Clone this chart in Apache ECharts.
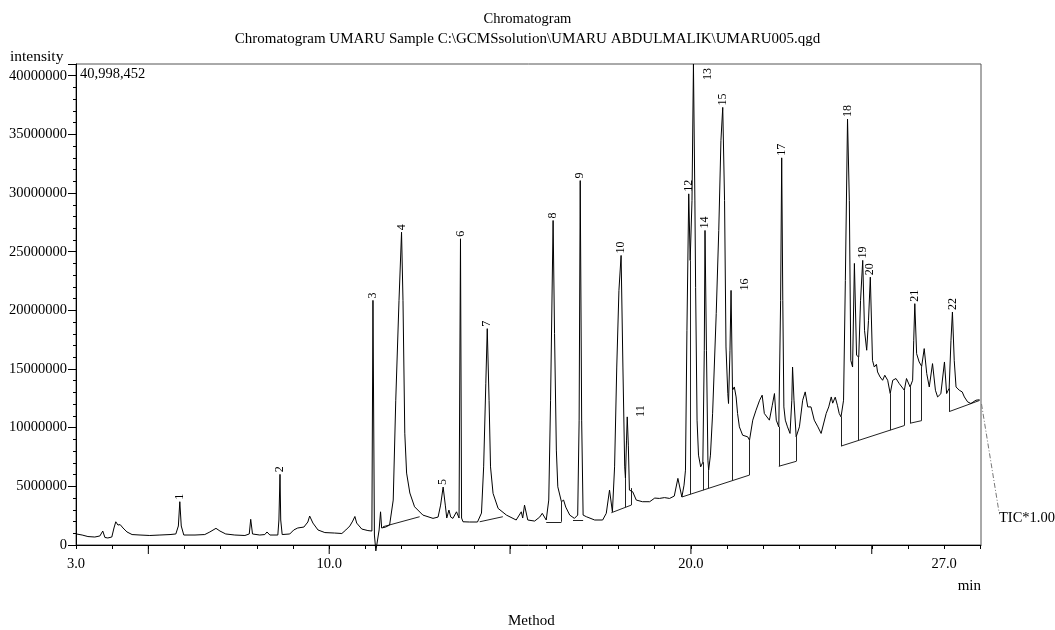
<!DOCTYPE html>
<html><head><meta charset="utf-8">
<script src="https://cdn.jsdelivr.net/npm/echarts@6/dist/echarts.min.js"></script>
<style>html,body{margin:0;padding:0;background:#fff}#c{width:1055px;height:630px}</style>
</head><body><div id="c"></div>
<script>
// Retention time (min)
const rtMin = [3.01,3.17,3.33,3.52,3.66,3.74,3.80,3.88,3.99,4.05,4.10,4.16,4.22,4.30,4.41,4.55,4.77,5.04,5.32,5.60,
5.76,5.83,5.87,5.91,5.98,6.29,6.56,6.70,6.87,6.98,7.14,7.39,7.67,7.79,7.83,7.88,8.08,8.22,8.28,8.36,
8.58,8.61,8.64,8.66,8.70,8.91,9.02,9.13,9.30,9.41,9.46,9.55,9.69,9.88,10.15,10.35,10.46,10.57,10.65,10.71,
10.76,10.90,11.07,11.18,11.21,11.25,11.29,11.34,11.38,11.42,11.45,11.56,11.67,11.77,11.84,11.93,12.00,12.04,12.09,12.14,
12.23,12.36,12.59,12.87,13.01,13.08,13.15,13.21,13.25,13.31,13.36,13.42,13.52,13.59,13.63,13.66,13.70,13.88,14.10,14.21,
14.27,14.33,14.37,14.42,14.46,14.53,14.67,14.90,15.17,15.31,15.35,15.40,15.49,15.68,15.82,15.89,16.00,16.07,16.12,16.19,
16.23,16.28,16.32,16.42,16.48,16.54,16.65,16.78,16.87,16.91,16.94,16.98,17.02,17.11,17.34,17.56,17.66,17.75,17.83,17.89,
17.95,18.01,18.07,18.12,18.17,18.19,18.22,18.24,18.27,18.30,18.35,18.39,18.49,18.66,18.86,19.00,19.13,19.27,19.41,19.54,
19.64,19.75,19.81,19.85,19.89,19.94,19.98,20.03,20.07,20.11,20.13,20.17,20.21,20.27,20.33,20.37,20.39,20.43,20.47,20.49,
20.54,20.60,20.70,20.77,20.83,20.88,20.93,20.97,21.02,21.04,21.08,21.11,21.15,21.20,21.25,21.29,21.34,21.43,21.57,21.62,
21.71,21.80,21.90,21.97,22.03,22.17,22.25,22.31,22.36,22.43,22.48,22.51,22.54,22.57,22.61,22.67,22.74,22.79,22.81,22.85,
22.91,23.00,23.09,23.16,23.23,23.32,23.41,23.51,23.60,23.64,23.74,23.81,23.88,23.92,23.99,24.05,24.10,24.15,24.22,24.27,
24.33,24.38,24.42,24.47,24.52,24.58,24.64,24.69,24.75,24.80,24.86,24.91,24.96,25.02,25.07,25.13,25.16,25.23,25.30,25.36,
25.44,25.51,25.58,25.67,25.76,25.90,25.96,26.06,26.13,26.16,26.19,26.24,26.31,26.38,26.45,26.52,26.59,26.68,26.76,26.82,
26.91,27.01,27.07,27.14,27.19,27.23,27.28,27.33,27.42,27.50,27.56,27.65,27.74,27.88,27.98];
// TIC intensity (millions of counts)
const ticMillions = [0.94,0.85,0.72,0.68,0.77,1.19,0.64,0.60,0.68,1.45,1.98,1.70,1.74,1.45,1.11,0.89,0.85,0.81,0.85,0.89,
0.94,1.62,3.69,1.62,0.85,0.85,0.89,1.11,1.42,1.19,0.94,0.85,0.81,0.94,2.19,0.94,0.85,0.89,1.11,0.85,
0.85,2.13,6.02,2.13,0.89,0.94,1.28,1.45,1.53,1.96,2.47,1.87,1.28,1.06,1.02,0.98,1.28,1.62,2.04,2.43,
1.87,1.36,1.23,1.19,20.85,0.85,-0.5,-0.5,1.28,2.83,1.45,1.53,1.70,3.83,12.34,20.85,26.66,20.85,9.53,6.13,
4.43,3.26,2.55,2.27,2.38,3.40,4.94,3.40,2.30,2.98,2.38,2.27,2.83,2.30,26.10,2.30,1.98,1.96,1.96,2.72,
6.66,13.79,18.44,12.34,6.66,4.40,3.12,2.55,2.13,2.83,2.30,3.40,2.13,2.04,2.38,2.70,2.13,3.83,12.34,27.66,
18.04,8.09,4.96,3.69,3.83,3.23,2.55,2.27,2.55,10.64,31.06,10.64,2.55,2.41,2.13,2.13,2.70,4.68,2.83,6.66,
15.17,21.70,24.68,15.17,6.66,5.70,8.94,10.92,8.51,4.68,4.85,4.54,3.83,3.69,3.69,4.00,3.97,4.04,3.97,4.17,
5.68,4.09,5.10,6.38,18.30,29.93,24.26,29.36,40.998452,29.40,21.96,10.64,7.66,6.66,7.06,16.60,26.81,16.60,7.23,6.38,
7.66,11.23,19.74,26.80,34.47,37.30,29.36,16.88,12.91,12.06,16.60,21.70,13.19,13.47,12.62,11.21,10.07,9.36,9.22,8.94,
10.64,11.49,12.34,12.77,11.21,10.64,11.91,12.91,10.64,10.07,20.85,33.00,20.85,11.77,10.64,10.07,9.51,12.34,15.17,12.34,
9.22,10.07,12.34,13.05,11.77,11.77,10.64,10.07,9.51,9.64,11.21,11.77,12.62,12.09,12.60,11.91,11.21,10.92,12.34,22.55,
36.31,29.36,15.74,15.17,24.00,16.17,16.02,20.85,24.26,18.30,16.60,19.15,22.83,15.74,15.17,15.40,14.75,14.32,14.04,14.47,
14.04,12.91,14.04,14.19,13.76,13.19,14.19,13.47,14.04,17.45,20.57,16.31,15.60,15.23,16.74,14.61,13.47,15.46,13.19,12.62,
12.89,15.60,12.91,13.36,17.45,19.86,15.74,13.47,13.19,13.05,12.62,12.20,12.06,12.34,12.38];

// Identified peaks
const peakNo  = [1,2,3,4,5,6,7,8,9,10,11,12,13,14,15,16,17,18,19,20,21,22];
const peakRt  = [5.87,8.64,11.21,12.00,13.15,13.63,14.37,16.19,16.94,18.07,18.24,19.94,20.07,20.39,20.88,21.11,22.51,24.33,24.75,24.96,26.19,27.23];
const peakInt = [3.69,6.02,20.85,26.66,4.94,26.10,18.44,27.66,31.06,24.68,10.92,29.93,40.998452,26.81,37.30,21.70,33.00,36.31,24.26,22.83,20.57,19.86];

// Integration baselines
const baseFromRt  = [11.49,14.16,16.00,16.74,17.80,19.75,22.43,24.15,26.06,27.14];
const baseFromInt = [1.56,1.98,1.98,2.13,2.75,4.09,6.71,8.43,10.38,11.37];
const baseToRt    = [12.50,14.80,16.42,17.02,18.35,21.62,22.91,25.90,26.38,27.98];
const baseToInt   = [2.41,2.41,1.98,2.13,3.40,5.96,7.13,10.18,10.60,12.32];
// Drop lines (peak boundaries)
const dropRt   = [16.42,18.19,18.35,19.98,20.33,20.49,21.15,21.62,22.43,22.91,24.15,24.64,25.51,25.90,26.06,26.38,27.14];
const dropLow  = [1.98,3.21,3.40,4.32,4.67,4.83,5.49,5.96,6.71,7.13,8.43,8.92,9.79,10.18,10.38,10.60,11.37];
const dropHigh = [3.69,5.70,4.85,24.26,7.06,6.38,13.19,8.94,10.07,9.22,10.92,16.02,12.91,13.19,13.47,15.23,13.36];

// Axis ticks / labels
const xLabelled = [3, 10, 20, 27];
const xLongTicks = [5, 10, 15, 20, 25];
const yStep = 5000000;

const M = 1e6;
const FONT = '"Liberation Serif", "Times New Roman", serif';
const tic = rtMin.map((t, i) => [t, ticMillions[i] * M]);
const yMax = Math.max(...ticMillions) * M;

const labelShift = {11: [14, 0], 13: [14, 16], 16: [14, 0]};

const chart = echarts.init(document.getElementById('c'), null, {renderer: 'canvas'});
chart.setOption({
  animation: false,
  backgroundColor: '#fff',
  title: [
    {text: 'Chromatogram', left: 'center', top: 7,
     textStyle: {fontFamily: FONT, fontSize: 14.5, fontWeight: 'normal', color: '#000'}},
    {text: 'Chromatogram UMARU Sample C:\\GCMSsolution\\UMARU ABDULMALIK\\UMARU005.qgd', left: 'center', top: 27,
     textStyle: {fontFamily: FONT, fontSize: 15, fontWeight: 'normal', color: '#000'}}
  ],
  grid: {left: 76, right: 74, top: 64, bottom: 85, show: true, borderColor: '#555', borderWidth: 1, backgroundColor: 'transparent'},
  xAxis: {
    type: 'value', min: 3, max: 28.02, interval: 1,
    axisLine: {show: true, onZero: false, lineStyle: {color: '#000', width: 1}},
    axisTick: {show: true, length: 4, lineStyle: {color: '#000'}},
    splitLine: {show: false},
    axisLabel: {
      margin: 12, showMaxLabel: false, color: '#000', fontFamily: FONT, fontSize: 14.5,
      formatter: v => xLabelled.indexOf(Math.round(v * 100) / 100) >= 0 ? v.toFixed(1) : ''
    }
  },
  yAxis: {
    type: 'value', min: 0, max: yMax, interval: yStep,
    axisLine: {show: true, lineStyle: {color: '#000', width: 1}},
    axisTick: {show: true, length: 8, lineStyle: {color: '#000'}},
    minorTick: {show: true, splitNumber: 5, length: 3, lineStyle: {color: '#000'}},
    splitLine: {show: false}, minorSplitLine: {show: false},
    axisLabel: {
      margin: 9, showMaxLabel: false, color: '#000', fontFamily: FONT, fontSize: 14.5,
      formatter: v => (v % yStep === 0) ? String(v) : ''
    }
  },
  series: [
    {
      type: 'line', name: 'TIC', data: tic, symbol: 'none', clip: false, z: 5,
      lineStyle: {color: '#000', width: 1}
    },
    {
      type: 'lines', coordinateSystem: 'cartesian2d', z: 4, silent: true,
      lineStyle: {color: '#222', width: 1, opacity: 1},
      data: baseFromRt.map((t, i) => ({coords: [[t, baseFromInt[i] * M], [baseToRt[i], baseToInt[i] * M]]}))
        .concat(dropRt.map((t, i) => ({coords: [[t, dropLow[i] * M], [t, dropHigh[i] * M]]})))
    },
    {
      type: 'custom', z: 6, silent: true, clip: false,
      data: peakNo.map((n, i) => [peakRt[i], peakInt[i] * M, n]),
      renderItem: (params, api) => {
        const p = api.coord([api.value(0), api.value(1)]);
        const n = api.value(2);
        const sh = labelShift[n] || [0, -2];
        return {
          type: 'text', x: p[0] + sh[0], y: p[1] + sh[1], rotation: Math.PI / 2,
          style: {text: String(n), x: 0, y: 0, align: 'left', verticalAlign: 'middle',
                  font: '12px ' + FONT, fill: '#000'}
        };
      }
    },
    {
      type: 'custom', z: 6, silent: true, clip: false,
      data: xLongTicks.map(v => [v, 0]),
      renderItem: (params, api) => {
        const p = api.coord([api.value(0), 0]);
        return {type: 'line', shape: {x1: p[0], y1: p[1], x2: p[0], y2: p[1] + 9},
                style: {stroke: '#000', lineWidth: 1}};
      }
    }
  ],
  graphic: [
    {type: 'text', left: 10, top: 49, style: {text: 'intensity', font: '15.5px ' + FONT, fill: '#000'}},
    {type: 'text', left: 80, top: 67, style: {text: Math.round(yMax).toLocaleString('en-US'), font: '14.5px ' + FONT, fill: '#000'}},
    {type: 'text', right: 74, top: 579, style: {text: 'min', font: '15px ' + FONT, fill: '#000'}},
    {type: 'text', left: 508, top: 614, style: {text: 'Method', font: '15px ' + FONT, fill: '#000'}},
    {type: 'text', left: 999, top: 511, style: {text: 'TIC*1.00', font: '14.5px ' + FONT, fill: '#000'}},
    {type: 'line', shape: {x1: 981.5, y1: 404, x2: 999, y2: 512},
     style: {stroke: '#777', lineWidth: 1, lineDash: [5, 2, 1, 2]}}
  ]
});
</script></body></html>
